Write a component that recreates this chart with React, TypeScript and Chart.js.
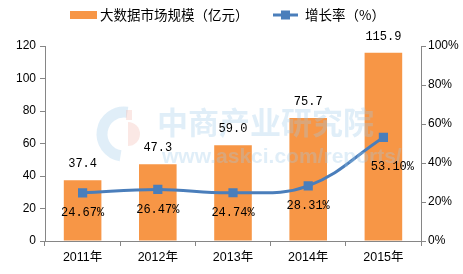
import React, { useEffect, useRef } from "react";
import { Chart, registerables } from "chart.js";

Chart.register(...registerables);

const categories = ["2011年", "2012年", "2013年", "2014年", "2015年"];
const marketSize = [37.4, 47.3, 59.0, 75.7, 115.9];
const growthRate = [24.67, 26.47, 24.74, 28.31, 53.1];
const sizeLabels = ["37.4", "47.3", "59.0", "75.7", "115.9"];
const rateLabels = ["24.67%", "26.47%", "24.74%", "28.31%", "53.10%"];

const BAR_COLOR = "#F79646";
const LINE_COLOR = "#4A7EBB";
const AXIS_COLOR = "#868686";
const SANS = "'Liberation Sans', 'Noto Sans CJK SC', sans-serif";
const MONO = "'Liberation Mono', 'DejaVu Sans Mono', monospace";
const CJK = "'Noto Sans CJK SC', 'Liberation Sans', sans-serif";

const overlayPlugin = {
  id: "overlay",
  afterDatasetsDraw(chart: any) {
    const ctx = chart.ctx as CanvasRenderingContext2D;
    // watermark
    ctx.save();
    ctx.globalAlpha = 0.32;
    ctx.lineWidth = 11;
    ctx.strokeStyle = "#9FCBE8";
    ctx.beginPath();
    ctx.arc(124, 134, 22, Math.PI * 0.55, Math.PI * 1.55);
    ctx.stroke();
    ctx.fillStyle = "#F2B8AE";
    ctx.beginPath();
    ctx.arc(128, 134, 12, -Math.PI / 2, Math.PI / 2);
    ctx.fill();
    ctx.fillRect(126, 110, 6, 10);
    ctx.fillStyle = "#9FCBE8";
    ctx.font = "bold 31px 'Noto Sans CJK SC', sans-serif";
    ctx.textAlign = "left";
    ctx.textBaseline = "middle";
    ctx.fillText("中商产业研究院", 157, 122);
    ctx.font = "bold 21px 'Liberation Sans', sans-serif";
    ctx.fillText("www.askci.com/reports/", 162, 157);
    ctx.restore();

    // data labels
    ctx.save();
    ctx.fillStyle = "#000";
    ctx.font = "12px " + MONO;
    ctx.textAlign = "center";
    ctx.textBaseline = "middle";
    const barMeta = chart.getDatasetMeta(0);
    barMeta.data.forEach((el: any, i: number) => {
      ctx.fillText(sizeLabels[i], el.x, el.y - 16);
    });
    const lineMeta = chart.getDatasetMeta(1);
    lineMeta.data.forEach((el: any, i: number) => {
      const last = i === lineMeta.data.length - 1;
      ctx.fillText(rateLabels[i], el.x + (last ? 9 : 0), el.y + (last ? 29 : 20));
    });
    ctx.restore();
  },
  afterDraw(chart: any) {
    const ctx = chart.ctx as CanvasRenderingContext2D;
    ctx.save();
    ctx.fillStyle = BAR_COLOR;
    ctx.fillRect(70, 11, 27, 8);
    ctx.fillStyle = "#000";
    ctx.font = "13.5px " + CJK;
    ctx.textAlign = "left";
    ctx.textBaseline = "middle";
    ctx.fillText("大数据市场规模（亿元）", 100, 15);
    ctx.strokeStyle = LINE_COLOR;
    ctx.lineWidth = 3;
    ctx.beginPath();
    ctx.moveTo(273, 15);
    ctx.lineTo(298, 15);
    ctx.stroke();
    ctx.fillStyle = LINE_COLOR;
    ctx.fillRect(281, 10.5, 9, 9);
    ctx.fillStyle = "#000";
    ctx.fillText("增长率（%）", 305, 15);
    ctx.restore();
  },
};

export default function App() {
  const ref = useRef<HTMLCanvasElement>(null);
  useEffect(() => {
    if (!ref.current) return;
    const chart = new Chart(ref.current, {
      type: "bar",
      data: {
        labels: categories,
        datasets: [
          {
            type: "bar",
            label: "大数据市场规模（亿元）",
            data: marketSize,
            backgroundColor: BAR_COLOR,
            yAxisID: "y",
            barPercentage: 0.5,
            categoryPercentage: 1,
            order: 2,
          },
          {
            type: "line",
            label: "增长率（%）",
            data: growthRate,
            borderColor: LINE_COLOR,
            backgroundColor: LINE_COLOR,
            borderWidth: 3,
            tension: 0.4,
            pointStyle: "rect",
            pointRadius: 6.5,
            pointBorderWidth: 0,
            pointHoverRadius: 6.5,
            yAxisID: "y1",
            order: 1,
          } as any,
        ],
      },
      options: {
        animation: false,
        responsive: false,
        devicePixelRatio: 1,
        layout: { padding: { top: 46, left: 0, right: 0, bottom: 0 } },
        plugins: { legend: { display: false }, tooltip: { enabled: false } },
        scales: {
          x: {
            offset: true,
            grid: {
              offset: true,
              drawOnChartArea: false,
              drawTicks: true,
              tickLength: 5,
              color: AXIS_COLOR,
            },
            border: { color: AXIS_COLOR, width: 1 },
            ticks: { color: "#000", font: { size: 12.5, family: SANS }, padding: 4, maxRotation: 0 },
            afterFit: (s: any) => {
              s.height = 33;
            },
          },
          y: {
            position: "left",
            min: 0,
            max: 120,
            ticks: { stepSize: 20, color: "#000", font: { size: 12, family: SANS }, padding: 4 },
            grid: { drawOnChartArea: false, drawTicks: true, tickLength: 5, color: AXIS_COLOR },
            border: { color: AXIS_COLOR, width: 1 },
            afterFit: (s: any) => {
              s.width = 45;
            },
          },
          y1: {
            position: "right",
            min: 0,
            max: 100,
            ticks: {
              stepSize: 20,
              color: "#000",
              font: { size: 12, family: SANS },
              padding: 2,
              callback: (v: any) => v + "%",
            },
            grid: { drawOnChartArea: false, drawTicks: true, tickLength: 5, color: AXIS_COLOR },
            border: { color: AXIS_COLOR, width: 1 },
            afterFit: (s: any) => {
              s.width = 42;
            },
          },
        },
      },
      plugins: [overlayPlugin],
    });
    return () => chart.destroy();
  }, []);
  return (
    <div style={{ position: "fixed", left: 0, top: 0, width: 463, height: 274, background: "#fff" }}>
      <canvas ref={ref} width={463} height={274} style={{ width: 463, height: 274, display: "block" }} />
    </div>
  );
}
